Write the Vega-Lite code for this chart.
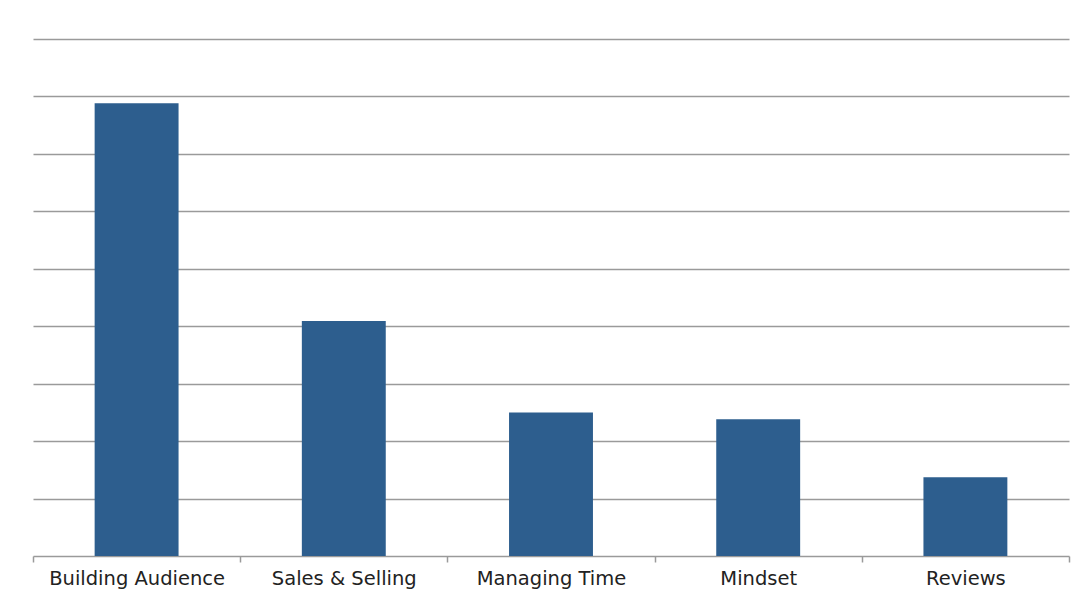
{
  "$schema": "https://vega.github.io/schema/vega-lite/v6.json",
  "width": 1036,
  "height": 517,
  "autosize": {"type": "none"},
  "padding": {"left": 33, "top": 39, "right": 20, "bottom": 45},
  "background": "white",
  "config": {"view": {"stroke": null}},
  "data": {
    "values": [
      {"topic": "Building Audience", "value": 7.88},
      {"topic": "Sales & Selling", "value": 4.09},
      {"topic": "Managing Time", "value": 2.5},
      {"topic": "Mindset", "value": 2.38},
      {"topic": "Reviews", "value": 1.37}
    ]
  },
  "mark": {"type": "bar", "color": "#2d5e8e", "width": {"band": 0.405}},
  "encoding": {
    "x": {
      "field": "topic",
      "type": "nominal",
      "sort": null,
      "scale": {"paddingInner": 0, "paddingOuter": 0},
      "axis": {
        "title": null,
        "labelAngle": 0,
        "tickBand": "extent",
        "domainColor": "#9a9a9a",
        "domainWidth": 1.5,
        "tickColor": "#9a9a9a",
        "tickWidth": 1.5,
        "tickSize": 6,
        "labelFont": "DejaVu Sans",
        "labelFontSize": 19.5,
        "labelColor": "#222222",
        "labelPadding": 7
      }
    },
    "y": {
      "field": "value",
      "type": "quantitative",
      "scale": {"domain": [0, 9], "nice": false},
      "axis": {
        "title": null,
        "values": [1, 2, 3, 4, 5, 6, 7, 8, 9],
        "labels": false,
        "ticks": false,
        "domain": false,
        "grid": true,
        "gridColor": "#9a9a9a",
        "gridWidth": 1.5
      }
    }
  }
}
